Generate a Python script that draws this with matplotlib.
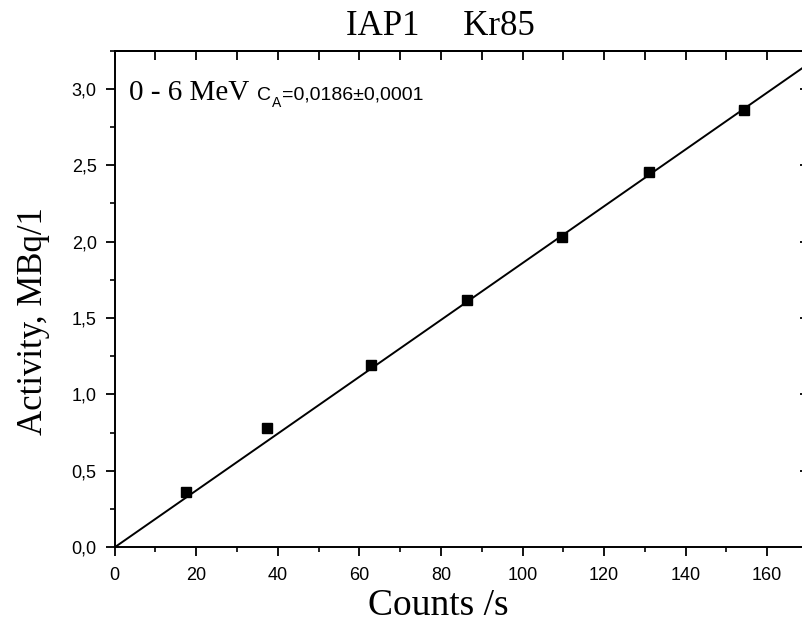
import numpy as np
import matplotlib
matplotlib.use("Agg")
import matplotlib.pyplot as plt
from matplotlib.ticker import MultipleLocator, FixedLocator, FixedFormatter

# ---- data ----
counts = [17.5, 37.4, 62.8, 86.4, 109.7, 130.9, 154.3]
activity = [0.36, 0.783, 1.19, 1.62, 2.034, 2.453, 2.864]
counts_err = [0.3, 0.4, 0.6, 0.7, 0.8, 1.0, 1.1]
fit_slope = 0.0186

x_limits = (0, 170)
y_limits = (0, 3.25)
xtick_values = [0, 20, 40, 60, 80, 100, 120, 140, 160]
xtick_labels = ["0", "20", "40", "60", "80", "100", "120", "140", "160"]
ytick_values = [0.0, 0.5, 1.0, 1.5, 2.0, 2.5, 3.0]
ytick_labels = ["0,0", "0,5", "1,0", "1,5", "2,0", "2,5", "3,0"]

title_text = "IAP1     Kr85"
xlabel_text = "Counts /s"
ylabel_text = "Activity, MBq/1"
range_text = "0 - 6 MeV"
coef_symbol = "C"
coef_sub = "A"
coef_value = "=0,0186±0,0001"

serif = ["Liberation Serif", "DejaVu Serif"]
sans = ["Liberation Sans", "DejaVu Sans"]

W, H = 803, 624
PT = 72 / 100  # points per pixel
fig = plt.figure(figsize=(W / 100, H / 100), dpi=100)
fig.patch.set_facecolor("white")

left_px, right_px, top_px, bottom_px = 114.7, 808.0, 50.7, 547.3
ax = fig.add_axes([left_px / W, 1 - bottom_px / H,
                   (right_px - left_px) / W, (bottom_px - top_px) / H])
ax.set_xlim(*x_limits)
ax.set_ylim(*y_limits)

# fit line through origin
fx = np.array(x_limits, dtype=float)
ax.plot(fx, fit_slope * fx, color="black", lw=1.4, zorder=2)

# data points with small error bars
ax.errorbar(counts, activity, xerr=counts_err, fmt="none", ecolor="#888888",
            elinewidth=1.0, capsize=2, capthick=1.0, zorder=3)
ax.plot(counts, activity, "s", color="black", markersize=6.5, zorder=4)

for s in ax.spines.values():
    s.set_linewidth(1.4)

# bottom / left ticks (outward)
ax.xaxis.set_major_locator(FixedLocator(xtick_values))
ax.xaxis.set_major_formatter(FixedFormatter(xtick_labels))
ax.xaxis.set_minor_locator(MultipleLocator(10))
ax.yaxis.set_major_locator(FixedLocator(ytick_values))
ax.yaxis.set_major_formatter(FixedFormatter(ytick_labels))
ax.yaxis.set_minor_locator(MultipleLocator(0.25))
ax.tick_params(which="major", direction="out", length=9 * PT, width=1.3,
               labelsize=13)
ax.tick_params(which="minor", direction="out", length=5 * PT, width=1.2)
ax.tick_params(axis="x", which="major", pad=11 * PT)
ax.tick_params(axis="y", which="major", pad=9 * PT)
ax.tick_params(axis="x", top=False)
ax.tick_params(axis="y", right=False)
for lab in ax.get_xticklabels() + ax.get_yticklabels():
    lab.set_family(sans)

# top ticks (inward)
topx = ax.secondary_xaxis("top")
topx.xaxis.set_major_locator(MultipleLocator(10))
topx.tick_params(direction="in", length=9 * PT, width=1.3, labeltop=False)
topx.spines["top"].set_linewidth(1.4)

# right ticks (inward)
righty = ax.secondary_yaxis("right")
righty.yaxis.set_major_locator(FixedLocator(ytick_values))
righty.yaxis.set_minor_locator(MultipleLocator(0.25))
righty.tick_params(which="major", direction="in", length=8 * PT, width=1.3,
                   labelright=False)
righty.tick_params(which="minor", direction="in", length=3 * PT, width=1.2)
righty.spines["right"].set_linewidth(1.4)

# annotations
ax.text(3.5, 2.925, range_text, family=serif, fontsize=21, va="baseline",
        ha="left")
tC = ax.text(34.9, 2.93, coef_symbol, family=sans, fontsize=14,
             va="baseline", ha="left")
tA = ax.annotate(coef_sub, xy=(1, 2.93), xycoords=(tC, "data"),
                 xytext=(1 * PT, -7 * PT), textcoords="offset points",
                 family=sans, fontsize=10, va="baseline", ha="left")
ax.annotate(coef_value, xy=(1, 2.93), xycoords=(tA, "data"),
            xytext=(1 * PT, 0), textcoords="offset points",
            family=sans, fontsize=14, va="baseline", ha="left")

# labels & title
fig.text(440 / W, 1 - 35 / H, title_text, family=serif, fontsize=25,
         ha="center", va="baseline")
fig.text(438 / W, 1 - 615 / H, xlabel_text, family=serif, fontsize=27,
         ha="center", va="baseline")
fig.text(34 / W, 1 - 321 / H, ylabel_text, family=serif, fontsize=25,
         ha="center", va="center", rotation=90)

fig.savefig("out.png", dpi=100, facecolor="white")
